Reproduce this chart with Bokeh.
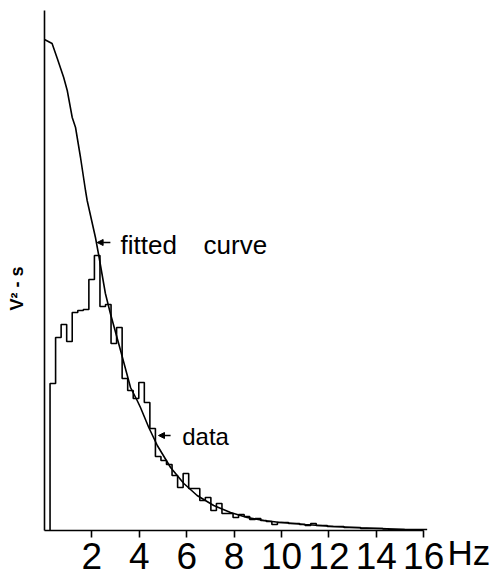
from bokeh.plotting import figure
from bokeh.models import Range1d, FixedTicker, Label, Arrow, NormalHead
from bokeh.embed import file_html
from bokeh.resources import INLINE
import numpy as np

# ---- data ----
# fitted curve (frequency in Hz, amplitude in arbitrary units)
curve_hz = [0.0, 0.32, 0.54, 0.81, 0.96, 1.17, 1.31, 1.52, 1.73, 1.80, 2.15, 2.29,
            2.57, 2.78, 3.21, 3.63, 3.91, 4.05, 4.40, 4.76, 5.32, 5.88, 6.44, 7.14,
            7.85, 8.55, 9.25, 9.87, 11.0, 12.19, 13.3, 14.46, 15.2, 16.0]
curve_amp = [491, 487, 472, 453, 440, 413, 403, 373, 340, 330, 293, 275,
             237, 217, 180, 143, 130, 123, 103, 85, 63, 47, 35, 25,
             18, 13, 10, 8.3, 6, 4, 2.8, 1.7, 1.0, 0.6]

# measured spectrum (histogram), bin width in Hz and bin heights
bin_width = 0.234
hist_amp = [147, 193, 206, 189, 218, 220, 221, 251, 275, 224, 226, 187, 203,
            152, 140, 132, 148, 128, 102, 74, 70, 66, 55, 43, 57, 42, 42, 30,
            33, 20, 27, 17, 17, 13, 16, 14, 11, 12, 10, 9, 6, 8, 8, 7, 7, 6,
            5, 7, 5, 5, 4, 4, 4, 3, 3, 3, 2, 2, 2, 2, 1.5, 1, 1, 1, 1, 1, 1, 1]

x_ticks = [2, 4, 6, 8, 10, 12, 14, 16]

# ---- figure (frame fills the canvas; axes sit at x=0 / y=0) ----
p = figure(width=499, height=575, output_backend="svg", toolbar_location=None,
           x_range=Range1d(-44 / 23.7, 455 / 23.7), y_range=Range1d(-45, 530),
           min_border=0)
p.min_border_left = 0
p.min_border_right = 0
p.min_border_top = 0
p.min_border_bottom = 0
p.outline_line_color = None
p.grid.visible = False
p.background_fill_color = "white"
p.border_fill_color = "white"

# histogram as a step outline
n = len(hist_amp)
left_edges = bin_width * (np.arange(n) + 1)
step_x = [left_edges[0]] + list(left_edges) + [left_edges[-1] + bin_width]
step_y = [0] + list(hist_amp) + [hist_amp[-1]]
p.step(step_x, step_y, mode="after", line_color="black", line_width=1.6)

# fitted curve
p.line(curve_hz, curve_amp, line_color="black", line_width=1.6)

# axes
xa = p.xaxis[0]
xa.fixed_location = 0
xa.ticker = FixedTicker(ticks=x_ticks)
xa.bounds = (0, 16)
xa.axis_line_width = 1.6
xa.major_tick_line_width = 1.6
xa.major_tick_in = 0
xa.major_tick_out = 7
xa.minor_tick_line_color = None
xa.major_label_text_font = "Liberation Sans"
xa.major_label_text_font_size = "37px"
xa.major_label_text_color = "black"
xa.major_label_standoff = 5

ya = p.yaxis[0]
ya.fixed_location = 0
ya.ticker = FixedTicker(ticks=[])
ya.bounds = (0, 520)
ya.axis_line_width = 1.6
ya.major_tick_line_color = None
ya.minor_tick_line_color = None
ya.major_label_standoff = 0

# annotations
p.add_layout(Label(x=17.0, y=-22, text="Hz", text_font="Liberation Sans",
                   text_font_size="35px", text_color="black",
                   text_baseline="middle"))
p.add_layout(Label(x=-1.18, y=220, text="V\u00b2  -  s", angle=np.pi / 2,
                   text_font="Liberation Sans", text_font_size="18px",
                   text_font_style="bold",
                   text_color="black", text_baseline="middle"))
p.add_layout(Label(x=3.21, y=286, text="fitted", text_font="Liberation Sans",
                   text_font_size="26px", text_color="black",
                   text_baseline="middle"))
p.add_layout(Label(x=6.71, y=286, text="curve", text_font="Liberation Sans",
                   text_font_size="26px", text_color="black",
                   text_baseline="middle"))
p.add_layout(Label(x=5.81, y=94, text="data", text_font="Liberation Sans",
                   text_font_size="24px", text_color="black",
                   text_baseline="middle"))
p.add_layout(Arrow(x_start=2.78, y_start=288, x_end=2.22, y_end=288,
                   line_width=1.5, end=NormalHead(size=6, fill_color="black")))
p.add_layout(Arrow(x_start=5.32, y_start=95, x_end=4.81, y_end=95,
                   line_width=1.5, end=NormalHead(size=6, fill_color="black")))

open("out.html", "w").write(file_html(p, INLINE))
